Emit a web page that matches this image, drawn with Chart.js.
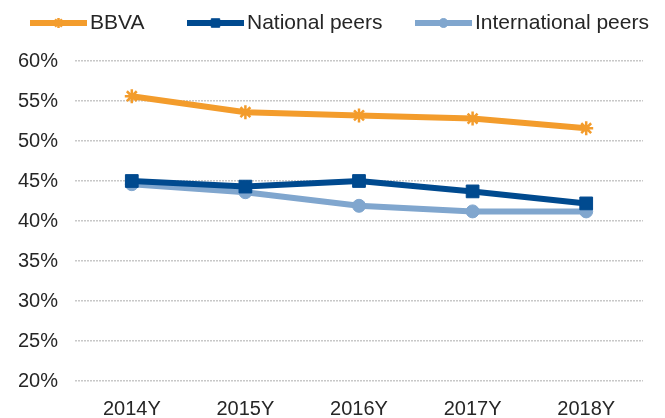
<!DOCTYPE html>
<html><head><meta charset="utf-8">
<script src="https://cdn.jsdelivr.net/npm/chart.js@4.4.0/dist/chart.umd.min.js"></script>
<style>html,body{margin:0;padding:0;background:#fff}#wrap{position:relative;width:665px;height:418px}</style>
</head><body><div id="wrap"><canvas id="c" width="665" height="418"></canvas></div>
<script>
const categories = ['2014Y', '2015Y', '2016Y', '2017Y', '2018Y'];
const seriesNames = ['BBVA', 'National peers', 'International peers'];
const bbva = [55.6, 53.6, 53.2, 52.8, 51.6];
const nationalPeers = [45.0, 44.3, 45.0, 43.7, 42.2];
const internationalPeers = [44.6, 43.6, 41.9, 41.2, 41.2];
const yTickValues = [20, 25, 30, 35, 40, 45, 50, 55, 60];

const FONT = '"Liberation Sans", Arial, sans-serif';
const colors = ['#F39C2C', '#004A8F', '#80A6CE'];
const legendX = [30, 187, 415];
const legendRadius = [5, 6, 4.5];

const legendPlugin = {
  id: 'excelLegend',
  afterDraw(chart) {
    const ctx = chart.ctx;
    const y = 23;
    ctx.save();
    chart.data.datasets.forEach((ds, i) => {
      const x0 = legendX[i];
      ctx.strokeStyle = ds.borderColor;
      ctx.fillStyle = ds.borderColor;
      ctx.lineWidth = 6;
      ctx.lineCap = 'butt';
      ctx.beginPath(); ctx.moveTo(x0, y); ctx.lineTo(x0 + 57, y); ctx.stroke();
      ctx.lineWidth = ds.pointBorderWidth;
      Chart.helpers.drawPoint(ctx, {pointStyle: ds.pointStyle, radius: legendRadius[i], borderWidth: ds.pointBorderWidth, rotation: 0}, x0 + 28.5, y);
      ctx.font = '21px ' + FONT;
      ctx.textBaseline = 'middle';
      ctx.textAlign = 'left';
      ctx.fillStyle = '#262626';
      ctx.fillText(ds.label, x0 + 60, y);
    });
    ctx.restore();
  }
};

const seriesData = [bbva, nationalPeers, internationalPeers];
const styles = ['star', 'rect', 'circle'];
const radii = [7, 9, 6.5];
const pbw = [2.5, 1, 1];

new Chart(document.getElementById('c'), {
  type: 'line',
  data: {
    labels: categories,
    datasets: seriesNames.map((name, i) => ({
      label: name,
      data: seriesData[i],
      borderColor: colors[i],
      backgroundColor: colors[i],
      pointBackgroundColor: colors[i],
      pointBorderColor: colors[i],
      borderWidth: 6,
      pointStyle: styles[i],
      pointRadius: radii[i],
      pointBorderWidth: pbw[i],
      tension: 0,
      fill: false
    }))
  },
  options: {
    responsive: false,
    devicePixelRatio: 1,
    animation: false,
    layout: {padding: {top: 61, right: 22, left: 0, bottom: 0}},
    plugins: {legend: {display: false}, tooltip: {enabled: false}},
    scales: {
      x: {
        offset: true,
        grid: {display: false, drawTicks: false, offset: true},
        border: {display: false},
        ticks: {font: {size: 20, family: FONT}, color: '#262626', padding: 16, maxRotation: 0},
        afterFit(s) { s.height = 37; }
      },
      y: {
        min: 20, max: 60,
        grid: {color: '#c8c8c8', lineWidth: 1.5, drawTicks: false},
        border: {display: false, dash: [2, 1]},
        ticks: {font: {size: 20, family: FONT}, color: '#262626', padding: 17,
          callback: v => v + '%'},
        afterBuildTicks(s) { s.ticks = yTickValues.map(v => ({value: v})); },
        afterFit(s) { s.width = 75; }
      }
    }
  },
  plugins: [legendPlugin]
});
</script></body></html>
